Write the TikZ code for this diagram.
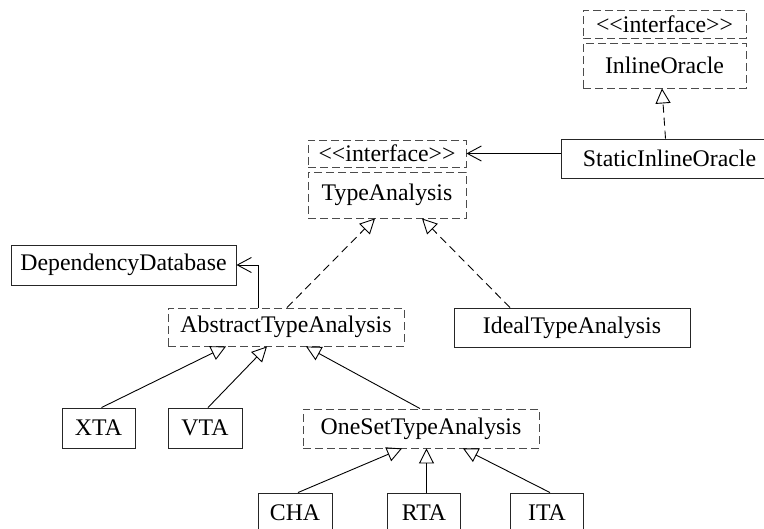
\documentclass[tikz,border=0pt]{standalone}
\usepackage{fontspec}
\newfontfamily\umlfont{Liberation Serif}
\usetikzlibrary{arrows.meta}
\tikzset{
  box/.style={draw=black!85, line width=0.9pt, inner sep=0pt, font=\umlfont\fontsize{23.8}{28}\selectfont},
  dbox/.style={box, dash pattern=on 8pt off 4pt, draw=black!70},
  inh/.style={line width=0.9pt, -{Triangle[open, length=15pt, width=15pt]}},
  real/.style={inh, dash pattern=on 8pt off 5pt},
  assoc/.style={line width=0.9pt, -{Straight Barb[length=14pt, width=15pt]}}
}
\begin{document}
\begin{tikzpicture}[x=1pt,y=-1pt]
\useasboundingbox (0,0) rectangle (764,529);
% interfaces
\node[dbox, minimum width=163pt, minimum height=28pt] (IOst) at (664.5,24) {<<interface>>};
\node[dbox, minimum width=163pt, minimum height=45pt] (IOname) at (664.5,65.5) {InlineOracle};
\node[dbox, minimum width=158pt, minimum height=27pt] (TAst) at (387,153.5) {<<interface>>};
\node[dbox, minimum width=158pt, minimum height=46pt] (TAname) at (387,195) {TypeAnalysis};
% classes
\node[box, minimum width=217pt, minimum height=39pt] (SIO) at (669.5,158.5) {StaticInlineOracle};
\node[box, minimum width=225pt, minimum height=40pt] (DD) at (123.5,265) {DependencyDatabase};
\node[dbox, minimum width=236pt, minimum height=38pt] (ATA) at (286,327) {AbstractTypeAnalysis};
\node[box, minimum width=236pt, minimum height=39pt] (ITYA) at (572,327.5) {IdealTypeAnalysis};
\node[box, minimum width=73pt, minimum height=40pt] (XTA) at (98.5,428) {XTA};
\node[box, minimum width=74pt, minimum height=40pt] (VTA) at (205,428) {VTA};
\node[dbox, minimum width=236pt, minimum height=39pt] (OSTA) at (421,428.5) {OneSetTypeAnalysis};
\node[box, minimum width=74pt, minimum height=40pt] (CHA) at (295,513) {CHA};
\node[box, minimum width=73pt, minimum height=40pt] (RTA) at (424,513) {RTA};
\node[box, minimum width=73pt, minimum height=40pt] (ITA) at (547,513) {ITA};
% connectors
\draw[real] ([xshift=-4pt]SIO.north) -- ([xshift=-2.5pt]IOname.south);
\draw[assoc] (SIO.west |- TAst.east) -- (TAst.east);
\draw[assoc] ([xshift=-28pt]ATA.north) |- (DD.east);
\draw[real] ([xshift=1pt]ATA.north) -- ([xshift=-12pt]TAname.south);
\draw[real] ([xshift=-62pt]ITYA.north) -- ([xshift=35pt]TAname.south);
\draw[inh] ([xshift=3pt]XTA.north) -- ([xshift=-60pt]ATA.south);
\draw[inh] ([xshift=3pt]VTA.north) -- ([xshift=-19pt]ATA.south);
\draw[inh] ([xshift=-1pt]OSTA.north) -- ([xshift=20pt]ATA.south);
\draw[inh] ([xshift=3pt]CHA.north) -- ([xshift=-19pt]OSTA.south);
\draw[inh] ([xshift=2.5pt]RTA.north) -- ([xshift=2.5pt]RTA.north |- OSTA.south);
\draw[inh] ([xshift=3pt]ITA.north) -- ([xshift=42pt]OSTA.south);
\end{tikzpicture}
\end{document}
